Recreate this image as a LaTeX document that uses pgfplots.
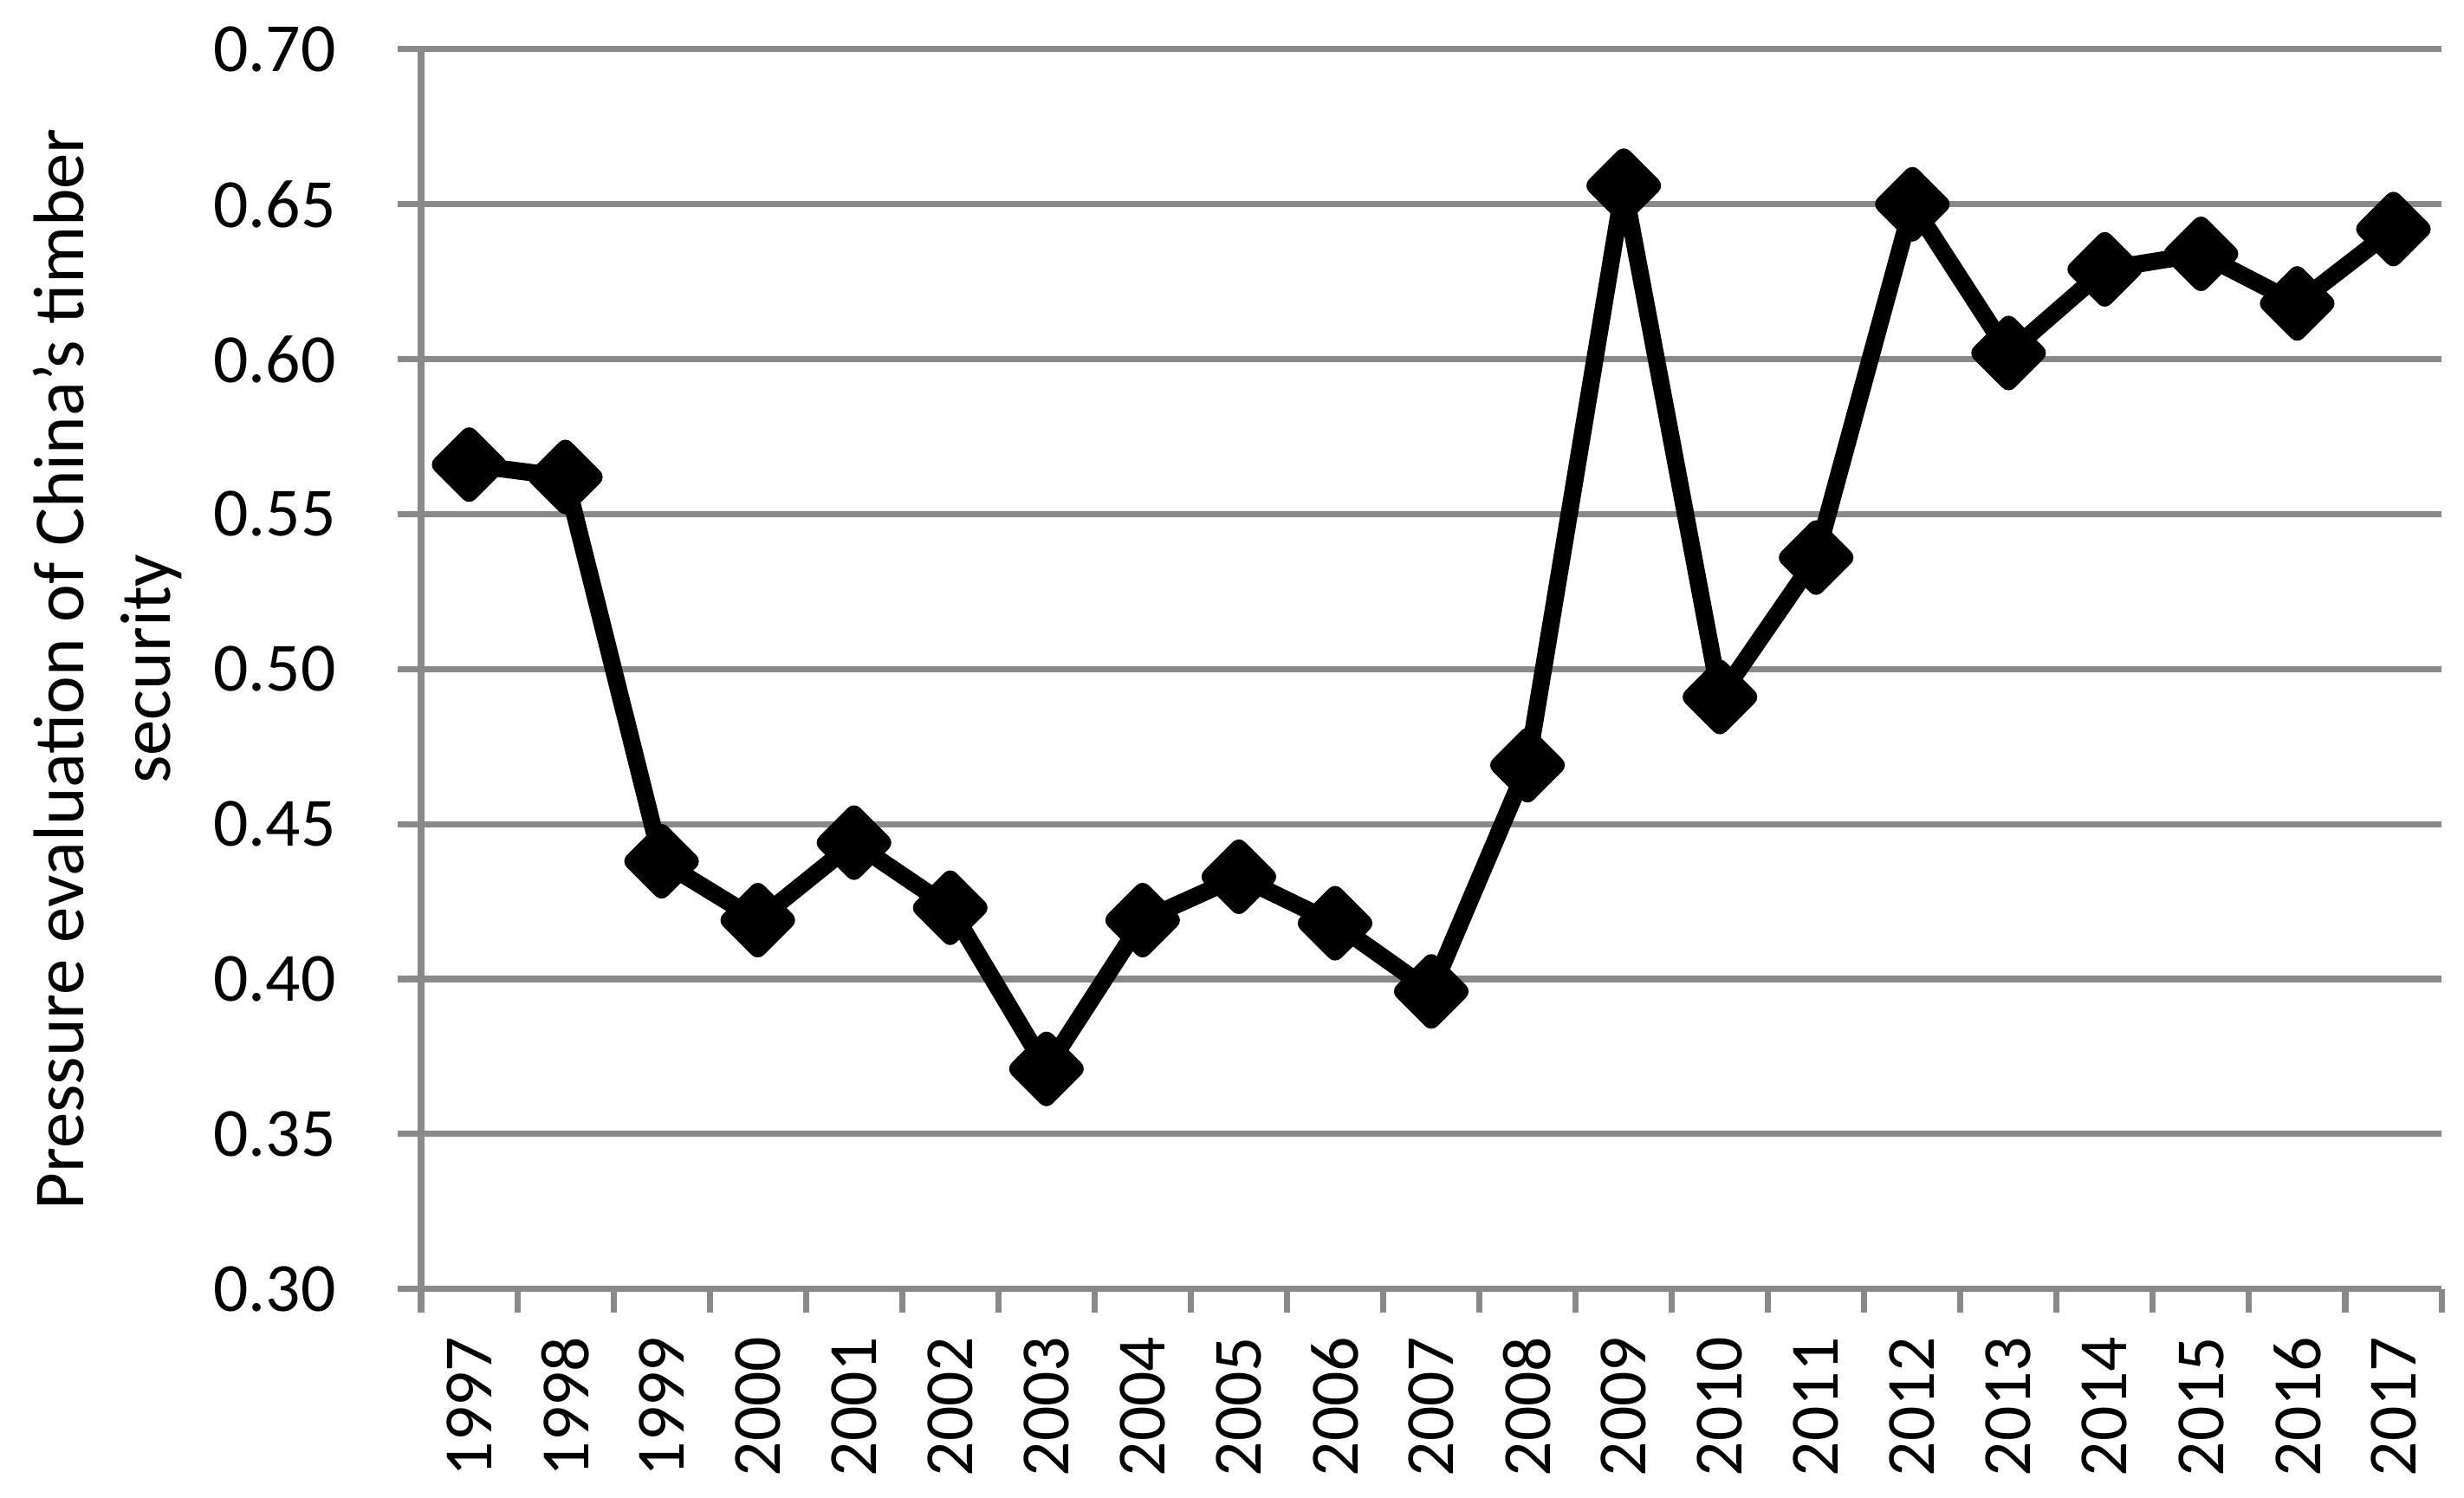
\documentclass[border=0pt]{standalone}
\usepackage{pgfplots}
\pgfplotsset{compat=1.18}
\usepackage{fontspec}
\setmainfont{Carlito}
\definecolor{axgray}{RGB}{137,137,137}

\begin{document}
\fontsize{12.5}{15}\selectfont
\begin{tikzpicture}
\begin{axis}[
    name=ax,
    scale only axis,
    width=128.6mm, height=78.9mm,
    xmin=-0.5, xmax=20.5,
    ymin=0.30, ymax=0.70,
    ytick={0.30,0.35,...,0.70},
    xtick={0,...,20},
    xticklabels={1997,1998,1999,2000,2001,2002,2003,2004,2005,2006,2007,2008,2009,2010,2011,2012,2013,2014,2015,2016,2017},
    minor xtick={-0.5,0.5,...,20.5},
    axis x line*=bottom, axis y line*=left,
    axis line style={axgray, line width=0.39mm},
    tick align=outside,
    major tick length=1.5mm, minor tick length=1.5mm,
    tick style={axgray, line width=0.39mm},
    major x tick style={draw=none},
    ymajorgrids,
    grid style={axgray, line width=0.39mm},
    yticklabel style={/pgf/number format/.cd, fixed, fixed zerofill, precision=2, assume math mode=true},
    yticklabel shift=2.4mm,
    xticklabel style={rotate=90, anchor=east},
    ylabel={Pressure evaluation of China's timber\\security},
    ylabel style={align=center, font=\fontsize{13}{15.7}\selectfont},
    ylabel shift=-1mm,
    clip=false,
]
\addplot[black, line width=1.1mm, line join=round, mark=square*, mark size=1.29mm,
    mark options={rotate=45, solid}] coordinates {
(0,0.566) (1,0.562) (2,0.438) (3,0.419) (4,0.444) (5,0.423) (6,0.371)
(7,0.419) (8,0.433) (9,0.418) (10,0.396) (11,0.469) (12,0.656) (13,0.491)
(14,0.536) (15,0.650) (16,0.602) (17,0.629) (18,0.634) (19,0.618) (20,0.642)
};
\end{axis}
\pgfresetboundingbox
\path[use as bounding box] ([shift={(-26.8mm,-13.3mm)}]ax.south west) rectangle ([shift={(1.43mm,3.14mm)}]ax.north east);
\end{tikzpicture}
\end{document}
